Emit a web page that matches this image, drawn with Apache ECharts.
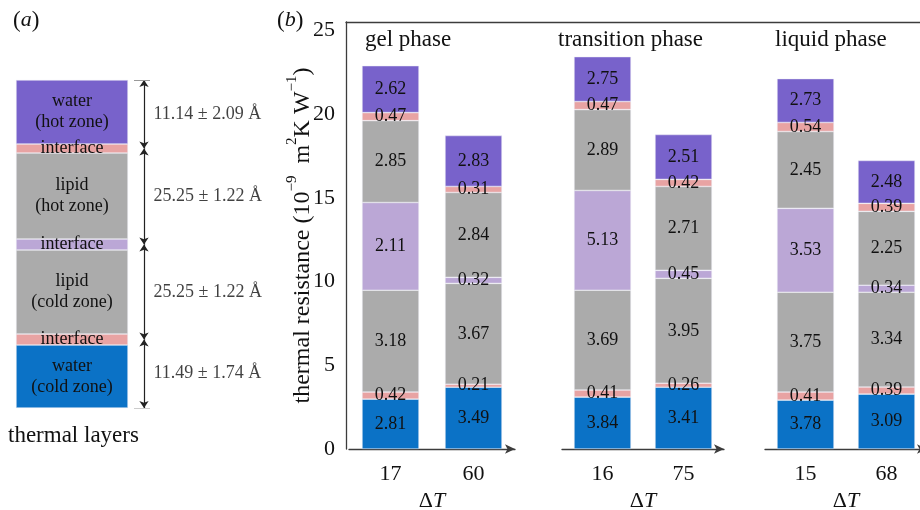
<!DOCTYPE html>
<html>
<head>
<meta charset="utf-8">
<script src="https://cdn.jsdelivr.net/npm/echarts@6/dist/echarts.min.js"></script>
<style>
  html, body { margin: 0; padding: 0; background: #fff; }
  #box { width: 920px; height: 510px; }
</style>
</head>
<body>
<div id="box"></div>
<script>
// ---- panel (b) data, one value per bar: gel 17, gel 60, transition 16, transition 75, liquid 15, liquid 68
var phases = ['gel phase', 'transition phase', 'liquid phase'];
var deltaT = [['17', '60'], ['16', '75'], ['15', '68']];

// drawn segment heights, bottom to top
var waterCold     = [2.98, 3.69, 3.10, 3.69, 2.92, 3.28];
var interfaceCold = [0.42, 0.18, 0.42, 0.24, 0.48, 0.42];
var lipidCold     = [6.08, 6.02, 5.96, 6.26, 5.96, 5.66];
var interfaceMid  = [5.24, 0.36, 5.96, 0.48, 5.01, 0.42];
var lipidHot      = [4.89, 5.07, 4.83, 5.01, 4.59, 4.41];
var interfaceHot  = [0.48, 0.36, 0.48, 0.42, 0.54, 0.48];
var waterHot      = [2.80, 3.04, 2.68, 2.68, 2.62, 2.56];

// numbers printed in the segments
var waterColdLbl     = ['2.81', '3.49', '3.84', '3.41', '3.78', '3.09'];
var interfaceColdLbl = ['0.42', '0.21', '0.41', '0.26', '0.41', '0.39'];
var lipidColdLbl     = ['3.18', '3.67', '3.69', '3.95', '3.75', '3.34'];
var interfaceMidLbl  = ['2.11', '0.32', '5.13', '0.45', '3.53', '0.34'];
var lipidHotLbl      = ['2.85', '2.84', '2.89', '2.71', '2.45', '2.25'];
var interfaceHotLbl  = ['0.47', '0.31', '0.47', '0.42', '0.54', '0.39'];
var waterHotLbl      = ['2.62', '2.83', '2.75', '2.51', '2.73', '2.48'];

// ---- panel (a): schematic layer stack, bottom to top
var layerText = ['water\n(cold zone)', 'interface', 'lipid\n(cold zone)', 'interface',
                 'lipid\n(hot zone)', 'interface', 'water\n(hot zone)'];
var layerHeights = [63, 11, 84, 11, 86, 9, 64];
var dimText = ['11.49 ± 1.74 Å', '25.25 ± 1.22 Å', '25.25 ± 1.22 Å', '11.14 ± 2.09 Å'];

var FONT = '"Liberation Serif", "Times New Roman", serif';
var INK = '#111';
var AXIS = '#3c3c3c';
var colors = ['#0b72c6', '#e8a3a3', '#ababab', '#bba7d6', '#ababab', '#e8a3a3', '#7862cb'];

var layersB = [
  [waterCold, waterColdLbl],
  [interfaceCold, interfaceColdLbl],
  [lipidCold, lipidColdLbl],
  [interfaceMid, interfaceMidLbl],
  [lipidHot, lipidHotLbl],
  [interfaceHot, interfaceHotLbl],
  [waterHot, waterHotLbl]
];

var myChart = echarts.init(document.getElementById('box'));

var grids = [
  { left: 346, top: 22, width: 574, height: 427 },   // frame + y axis of (b)
  { left: 349, top: 22, width: 166, height: 427 },
  { left: 562, top: 22, width: 162, height: 427 },
  { left: 765, top: 22, width: 162, height: 427 },
  { left: 16, top: 80, width: 112, height: 328 },    // (a) layers
  { left: 134, top: 80, width: 20, height: 328 }     // (a) dimension arrows
];
grids.forEach(function (gr) { gr.outerBoundsMode = 'none'; gr.containLabel = false; });

var nameRich = {
  n: { fontFamily: FONT, fontSize: 24, color: INK, padding: [6, 0, 0, 0], verticalAlign: 'bottom' },
  s: { fontFamily: FONT, fontSize: 15, color: INK, verticalAlign: 'top' }
};

var xAxes = [
  { gridIndex: 0, type: 'value', position: 'top', min: 0, max: 1,
    axisLine: { show: true, onZero: false, lineStyle: { color: AXIS, width: 1.3 } },
    axisTick: { show: false }, axisLabel: { show: false }, splitLine: { show: false } }
];
var yAxes = [
  { gridIndex: 0, type: 'value', min: 0, max: 25.5, interval: 5,
    axisLine: { show: true, onZero: false, lineStyle: { color: AXIS, width: 1.3 } },
    axisTick: { show: false }, splitLine: { show: false },
    axisLabel: { fontFamily: FONT, fontSize: 22, color: INK, margin: 11,
      formatter: function (v) { return v % 5 === 0 ? v : ''; } },
    name: '{n|thermal resistance (10}{s|−9}{n|  m}{s|2}{n|K W}{s|−1}{n|)}',
    nameLocation: 'middle', nameGap: 31, nameMoveOverlap: false,
    nameTextStyle: { rich: nameRich } }
];

var series = [];

phases.forEach(function (ph, g) {
  xAxes.push({
    gridIndex: g + 1, type: 'category', data: deltaT[g],
    axisLine: { show: true, symbol: ['none', 'arrow'], symbolSize: [7, 10],
      lineStyle: { color: AXIS, width: 1.3 } },
    axisTick: { show: false },
    axisLabel: { fontFamily: FONT, fontSize: 22, color: INK, margin: 14 },
    name: '{d|Δ}{t|T}', nameLocation: 'middle', nameGap: 41,
    nameTextStyle: { rich: {
      d: { fontFamily: FONT, fontSize: 22, color: INK },
      t: { fontFamily: FONT, fontSize: 22, color: INK, fontStyle: 'italic' } } }
  });
  yAxes.push({ gridIndex: g + 1, type: 'value', min: 0, max: 25.5, show: false });

  layersB.forEach(function (layer, k) {
    series.push({
      type: 'bar', xAxisIndex: g + 1, yAxisIndex: g + 1, stack: 'p' + g, barWidth: 57,
      data: layer[0].slice(2 * g, 2 * g + 2),
      itemStyle: { color: colors[k], borderColor: 'rgba(235,235,245,0.8)', borderWidth: 0.6 },
      label: { show: true, position: 'inside', fontFamily: FONT, fontSize: 18, color: INK,
        formatter: function (p) { return layer[1][2 * g + p.dataIndex]; } },
      silent: true
    });
  });
});

// panel (a) layers
xAxes.push({ gridIndex: 4, type: 'category', data: [''], show: false });
yAxes.push({ gridIndex: 4, type: 'value', min: 0, max: 328, show: false });
layerHeights.forEach(function (h, k) {
  series.push({
    type: 'bar', xAxisIndex: 4, yAxisIndex: 4, stack: 'a', barWidth: '100%',
    data: [h],
    itemStyle: { color: colors[k], borderColor: 'rgba(235,235,245,0.8)', borderWidth: 0.6 },
    label: { show: true, position: 'inside', fontFamily: FONT, fontSize: 18, lineHeight: 21,
      color: INK, formatter: layerText[k] },
    silent: true
  });
});

// dimension arrows span from interface middle to interface middle
var cum = [0];
layerHeights.forEach(function (h) { cum.push(cum[cum.length - 1] + h); });
var bounds = [0, cum[1] + layerHeights[1] / 2, cum[3] + layerHeights[3] / 2,
              cum[5] + layerHeights[5] / 2, cum[7]];
var arrowData = [], dimPoints = [];
for (var i = 0; i < 4; i++) {
  arrowData.push({ coords: [[1, bounds[i]], [1, bounds[i + 1]]] });
  dimPoints.push([1, (bounds[i] + bounds[i + 1]) / 2]);
}
xAxes.push({ gridIndex: 5, type: 'value', min: 0, max: 2, show: false });
yAxes.push({ gridIndex: 5, type: 'value', min: 0, max: 328, show: false });
series.push({
  type: 'lines', coordinateSystem: 'cartesian2d', xAxisIndex: 5, yAxisIndex: 5,
  symbol: ['arrow', 'arrow'], symbolSize: 7,
  lineStyle: { color: '#222', width: 1.2, opacity: 1 },
  data: arrowData, silent: true
});
series.push({
  type: 'lines', coordinateSystem: 'cartesian2d', xAxisIndex: 5, yAxisIndex: 5,
  symbol: 'none', lineStyle: { color: '#999', width: 1.2, opacity: 1 },
  data: [{ coords: [[0, 0], [1.6, 0]] }, { coords: [[0, 328], [1.6, 328]] }], silent: true
});
series.push({
  type: 'scatter', xAxisIndex: 5, yAxisIndex: 5, symbolSize: 1,
  itemStyle: { color: 'rgba(0,0,0,0)' },
  data: dimPoints,
  label: { show: true, position: 'right', distance: 9, fontFamily: FONT, fontSize: 18, color: INK,
    formatter: function (p) { return dimText[p.dataIndex]; } },
  silent: true
});

var titleStyle = { fontFamily: FONT, fontSize: 23, fontWeight: 'normal', color: INK,
  rich: { i: { fontFamily: FONT, fontSize: 22, fontStyle: 'italic', color: INK } } };

var option = {
  animation: false,
  title: [
    { text: '({i|a})', left: 13, top: 9, padding: 0, textStyle: titleStyle },
    { text: '({i|b})', left: 277, top: 9, padding: 0, textStyle: titleStyle },
    { text: phases[0], left: 365, top: 28, padding: 0, textStyle: titleStyle },
    { text: phases[1], left: 558, top: 28, padding: 0, textStyle: titleStyle },
    { text: phases[2], left: 775, top: 28, padding: 0, textStyle: titleStyle },
    { text: 'thermal layers', left: 8, top: 424, padding: 0, textStyle: titleStyle }
  ],
  grid: grids,
  xAxis: xAxes,
  yAxis: yAxes,
  series: series
};

myChart.setOption(option);
</script>
</body>
</html>
